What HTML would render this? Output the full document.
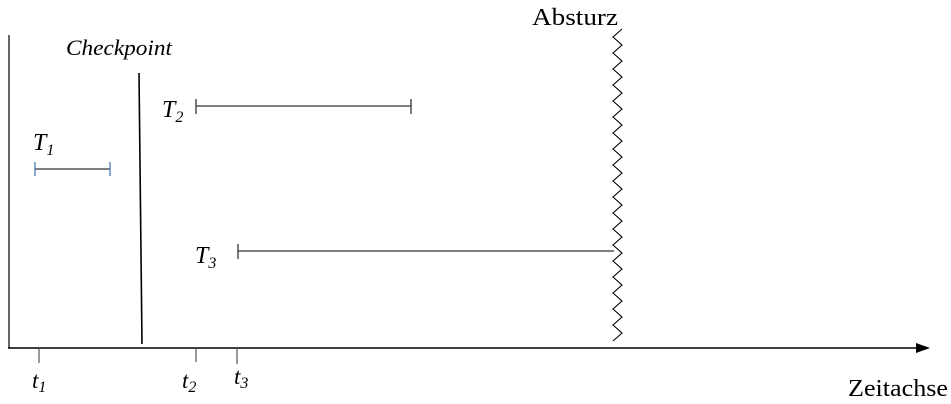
<!DOCTYPE html>
<html><head><meta charset="utf-8"><style>
html,body{margin:0;padding:0;background:#fff;}
svg{display:block;font-family:"Liberation Serif",serif;}
</style></head><body>
<svg width="951" height="404" viewBox="0 0 951 404">
<line x1="9" y1="35" x2="9" y2="348" stroke="#000" stroke-width="1.2"/>
<line x1="8" y1="348" x2="918" y2="348" stroke="#000" stroke-width="1.6"/>
<polygon points="930,348 916,343 916,353" fill="#000"/>
<text x="848" y="396" font-size="24" textLength="100" lengthAdjust="spacingAndGlyphs">Zeitachse</text>
<line x1="39" y1="348" x2="39" y2="363" stroke="#555" stroke-width="1.2"/>
<line x1="196" y1="348" x2="196" y2="362" stroke="#555" stroke-width="1.2"/>
<line x1="237" y1="348" x2="237" y2="364" stroke="#555" stroke-width="1.2"/>
<text x="32" y="388" font-size="23" font-style="italic">t<tspan font-size="16" dy="4">1</tspan></text>
<text x="182" y="388" font-size="23" font-style="italic">t<tspan font-size="16" dy="4">2</tspan></text>
<text x="234" y="384" font-size="23" font-style="italic">t<tspan font-size="16" dy="4">3</tspan></text>
<text x="66" y="55" font-size="22" font-style="italic" textLength="106" lengthAdjust="spacingAndGlyphs">Checkpoint</text>
<line x1="139" y1="73" x2="142" y2="344" stroke="#000" stroke-width="1.6"/>
<text x="33" y="150" font-size="24" font-style="italic">T<tspan font-size="16" dy="5">1</tspan></text>
<g stroke="#4a7ab8" stroke-width="1.3">
<line x1="35" y1="169" x2="110" y2="169" stroke="#333"/>
<line x1="35" y1="162" x2="35" y2="176"/>
<line x1="110" y1="162" x2="110" y2="176"/>
</g>
<text x="162" y="117" font-size="24" font-style="italic">T<tspan font-size="16" dy="5">2</tspan></text>
<g stroke="#333" stroke-width="1.3">
<line x1="196" y1="106" x2="411" y2="106"/>
<line x1="196" y1="99" x2="196" y2="114"/>
<line x1="411" y1="99" x2="411" y2="114"/>
</g>
<text x="195" y="263" font-size="24" font-style="italic">T<tspan font-size="16" dy="5">3</tspan></text>
<g stroke="#333" stroke-width="1.3">
<line x1="238" y1="251" x2="614" y2="251"/>
<line x1="238" y1="244" x2="238" y2="259"/>
</g>
<text x="532" y="25" font-size="24" textLength="86" lengthAdjust="spacingAndGlyphs">Absturz</text>
<polyline id="zz" fill="none" stroke="#000" stroke-width="1.1"/>
</svg>
<script>
var pts=[];var y=29,i=0;
while(y<=348){pts.push((i%2?613:622)+','+y);y+=8;i++;}
document.getElementById('zz').setAttribute('points',pts.join(' '));
</script>
</body></html>
